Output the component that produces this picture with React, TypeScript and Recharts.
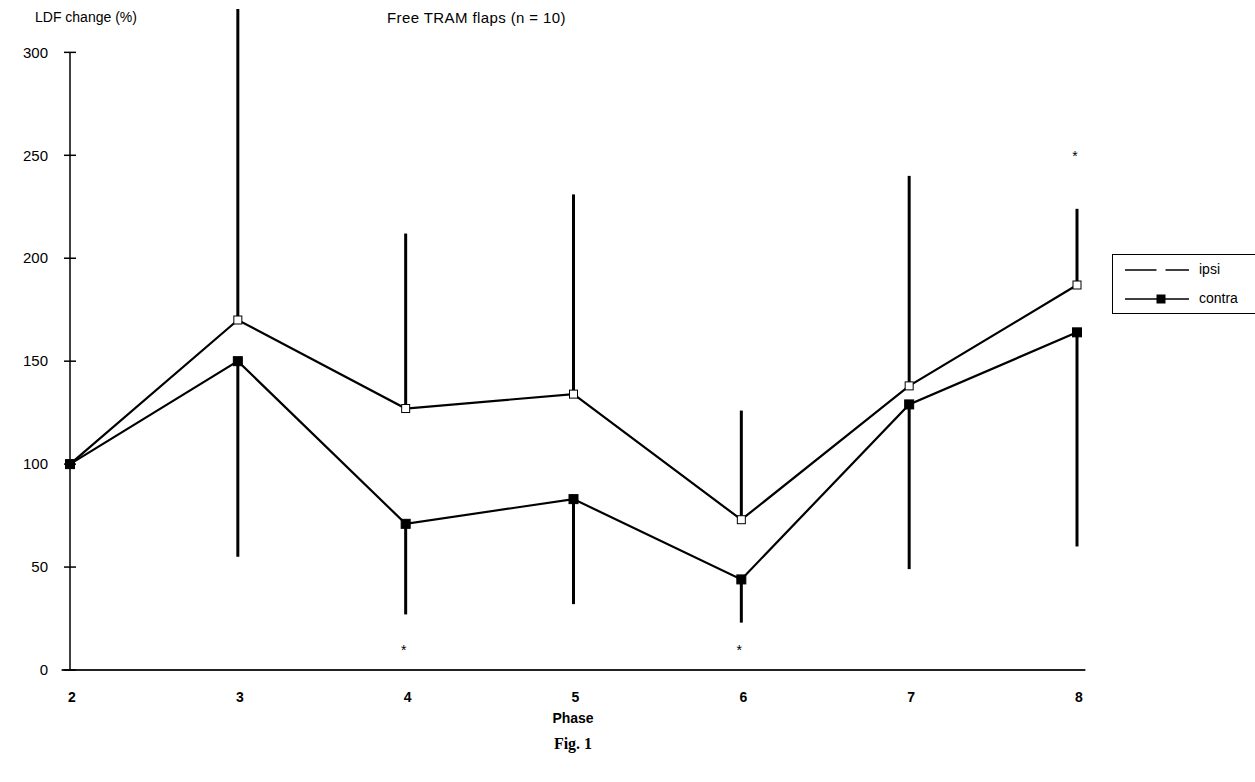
import React from 'react';
import { ComposedChart, Line, XAxis, YAxis, ErrorBar, Legend, ReferenceLine } from 'recharts';

const phases = [2, 3, 4, 5, 6, 7, 8];
const ipsiMeans = [100, 170, 127, 134, 73, 138, 187];
const ipsiUpper = [100, 321, 212, 231, 126, 240, 224];
const contraMeans = [100, 150, 71, 83, 44, 129, 164];
const contraLower = [100, 55, 27, 32, 23, 49, 60];
const significance: (number | null)[] = [null, null, 11, null, 11, null, 251];
const yTicks = [0, 50, 100, 150, 200, 250, 300];
const seriesNames = ['ipsi', 'contra'];
const chartTitle = 'Free TRAM flaps (n = 10)';
const yLabel = 'LDF change (%)';
const xLabel = 'Phase';
const figCaption = 'Fig. 1';

const data = phases.map((p, i) => ({
  phase: p,
  ipsi: ipsiMeans[i],
  contra: contraMeans[i],
  ipsiErr: [0, ipsiUpper[i] - ipsiMeans[i]],
  contraErr: [contraMeans[i] - contraLower[i], 0],
  sig: significance[i],
}));

const FONT = '"Liberation Sans", Arial, sans-serif';

const YTick = (props: any) => {
  const { x, y, payload } = props;
  return (
    <g>
      <line x1={x - 6} x2={x + 6} y1={y} y2={y} stroke="#000" strokeWidth={1.5} />
      <text x={x - 22} y={y} dy="0.35em" textAnchor="end" fontSize={15} fontFamily={FONT} fill="#000">
        {payload.value}
      </text>
    </g>
  );
};

const XTick = (props: any) => {
  const { x, y, payload } = props;
  return (
    <text x={x + 2} y={y} dy="0.71em" textAnchor="middle" fontSize={14} fontWeight="bold" fontFamily={FONT} fill="#000">
      {payload.value}
    </text>
  );
};

const ipsiDot = (p: any) => (
  <rect key={`i${p.index}`} x={p.cx - 4} y={p.cy - 4} width={8} height={8} fill="#fff" stroke="#000" strokeWidth={1} />
);
const contraDot = (p: any) => (
  <rect key={`c${p.index}`} x={p.cx - 4.5} y={p.cy - 4.5} width={9} height={9} fill="#000" stroke="#000" strokeWidth={1} />
);
const sigDot = (p: any) => {
  if (p.value == null || p.cy == null || isNaN(p.cy)) return <g key={`s${p.index}`} />;
  return (
    <text key={`s${p.index}`} x={p.cx - 2} y={p.cy + 8} textAnchor="middle" fontSize={14} fontFamily={FONT} fill="#000">
      *
    </text>
  );
};

const LegendBox = () => (
  <div
    style={{
      border: '1px solid #000',
      background: '#fff',
      width: 160,
      height: 60,
      boxSizing: 'border-box',
      fontFamily: FONT,
      fontSize: 14,
      color: '#000',
      position: 'relative',
    }}
  >
    <svg width={80} height={60} style={{ position: 'absolute', left: 0, top: 0 }}>
      <line x1={12} x2={76} y1={15} y2={15} stroke="#000" strokeWidth={1.5} />
      <rect x={44} y={11} width={8} height={8} fill="#fff" stroke="#fff" />
      <line x1={12} x2={76} y1={44} y2={44} stroke="#000" strokeWidth={1.5} />
      <rect x={43.5} y={39.5} width={9} height={9} fill="#000" />
    </svg>
    <div style={{ position: 'absolute', left: 86, top: 6 }}>{seriesNames[0]}</div>
    <div style={{ position: 'absolute', left: 86, top: 35 }}>{seriesNames[1]}</div>
  </div>
);

export default function App() {
  return (
    <div style={{ position: 'absolute', left: 0, top: 0, width: 1255, height: 782, background: '#fff' }}>
      <ComposedChart
        width={1255}
        height={782}
        data={data}
        margin={{ top: 5, right: 178, bottom: 72, left: 8 }}
      >
        <XAxis
          dataKey="phase"
          type="number"
          domain={[2, 8]}
          ticks={phases}
          axisLine={false}
          tickLine={false}
          tickSize={0}
          tickMargin={22}
          height={40}
          tick={<XTick />}
        />
        <YAxis
          type="number"
          domain={[0, 323]}
          allowDataOverflow
          ticks={yTicks}
          axisLine={false}
          tickLine={false}
          tickSize={0}
          tickMargin={0}
          width={62}
          tick={<YTick />}
        />
        <ReferenceLine
          segment={[{ x: 2, y: 0 }, { x: 2, y: 300 }]}
          stroke="#000"
          strokeWidth={1.5}
          ifOverflow="visible"
        />
        <ReferenceLine
          segment={[{ x: 1.95, y: 0 }, { x: 8.05, y: 0 }]}
          stroke="#222"
          strokeWidth={2}
          ifOverflow="visible"
        />
        <Line
          dataKey="ipsi"
          name={seriesNames[0]}
          stroke="#000"
          strokeWidth={2.2}
          dot={ipsiDot}
          activeDot={false}
          isAnimationActive={false}
        >
          <ErrorBar dataKey="ipsiErr" direction="y" width={0} stroke="#000" strokeWidth={3} />
        </Line>
        <Line
          dataKey="contra"
          name={seriesNames[1]}
          stroke="#000"
          strokeWidth={2.2}
          dot={contraDot}
          activeDot={false}
          isAnimationActive={false}
        >
          <ErrorBar dataKey="contraErr" direction="y" width={0} stroke="#000" strokeWidth={3} />
        </Line>
        <Line
          dataKey="sig"
          stroke="none"
          dot={sigDot}
          activeDot={false}
          legendType="none"
          isAnimationActive={false}
        />
        <Legend
          layout="vertical"
          align="center"
          verticalAlign="middle"
          wrapperStyle={{ position: 'absolute', left: 1112, top: 254, width: 160, height: 60 }}
          content={() => <LegendBox />}
        />
      </ComposedChart>
      <div style={{ position: 'absolute', left: 35, top: 9, fontFamily: FONT, fontSize: 14, color: '#000', whiteSpace: 'nowrap' }}>
        {yLabel}
      </div>
      <div style={{ position: 'absolute', left: 387, top: 9, fontFamily: FONT, fontSize: 15, letterSpacing: 0.4, color: '#000', whiteSpace: 'nowrap' }}>
        {chartTitle}
      </div>
      <div style={{ position: 'absolute', left: 473, width: 200, textAlign: 'center', top: 710, fontFamily: FONT, fontSize: 14, fontWeight: 'bold', color: '#000' }}>
        {xLabel}
      </div>
      <div style={{ position: 'absolute', left: 473, width: 200, textAlign: 'center', top: 735, fontFamily: '"Liberation Serif", serif', fontSize: 16, fontWeight: 'bold', color: '#000' }}>
        {figCaption}
      </div>
    </div>
  );
}
